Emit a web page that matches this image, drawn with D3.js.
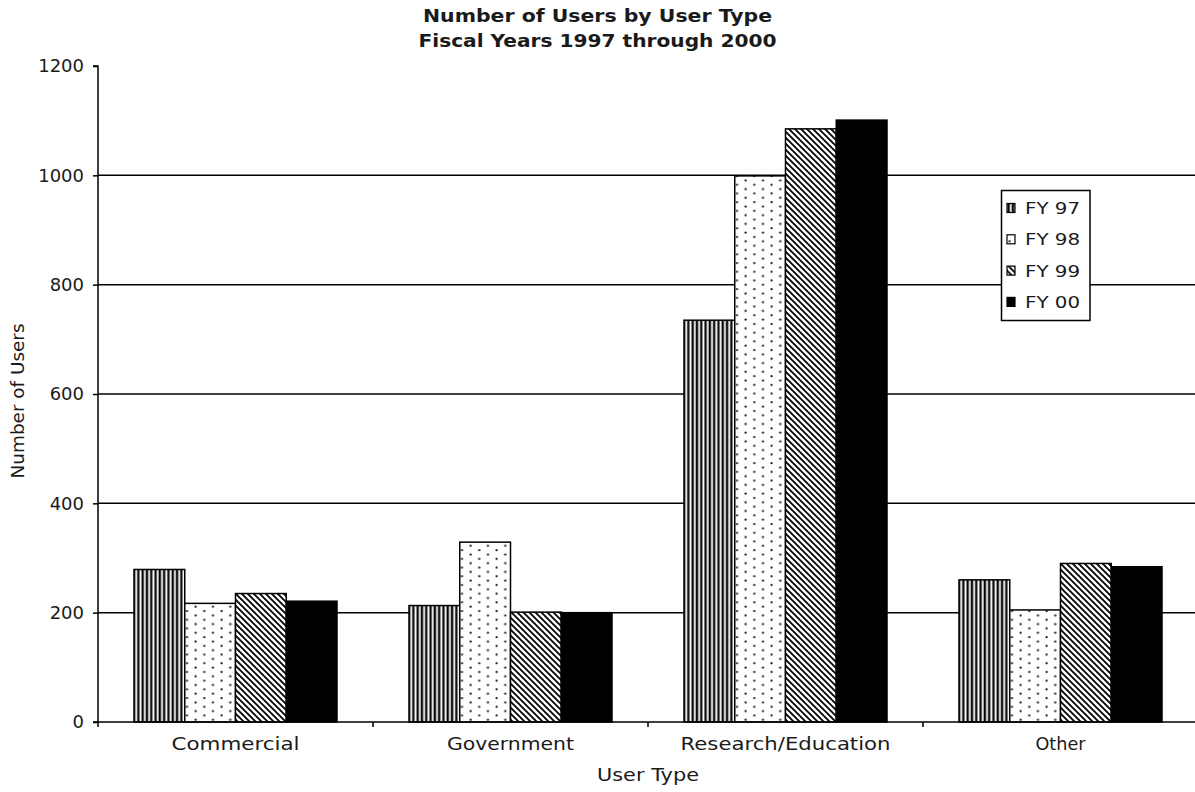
<!DOCTYPE html>
<html>
<head>
<meta charset="utf-8">
<script src="https://cdn.jsdelivr.net/npm/d3@7/dist/d3.min.js"></script>
<style>
  html, body { margin: 0; padding: 0; background: #fff; }
  svg { display: block; }
  text { font-family: "DejaVu Sans", Verdana, sans-serif; fill: #1a1a1a; }
</style>
</head>
<body>
<svg id="chart" width="1195" height="792"></svg>
<script>
const titleLines = ["Number of Users by User Type", "Fiscal Years 1997 through 2000"];
const categories = ["Commercial", "Government", "Research/Education", "Other"];
const seriesNames = ["FY 97", "FY 98", "FY 99", "FY 00"];
const fy97 = [279, 213, 735, 260];
const fy98 = [217, 329, 999, 205];
const fy99 = [235, 201, 1085, 290];
const fy00 = [221, 200, 1101, 284];
const yTicks = [0, 200, 400, 600, 800, 1000, 1200];
const yTitle = "Number of Users";
const xTitle = "User Type";

const seriesValues = [fy97, fy98, fy99, fy00];

const svg = d3.select("#chart");
const mLeft = 98, mRight = 1198, mTop = 66, mBottom = 722;

// patterns
const defs = svg.append("defs");
const pStripe = defs.append("pattern").attr("id", "p0").attr("patternUnits", "userSpaceOnUse")
  .attr("width", 4.3).attr("height", 4);
pStripe.append("rect").attr("width", 4.3).attr("height", 4).attr("fill", "#fff");
pStripe.append("rect").attr("x", 0.5).attr("width", 2).attr("height", 4).attr("fill", "#000");
pStripe.append("rect").attr("x", 2.5).attr("width", 0.8).attr("height", 4).attr("fill", "#888");

const pDots = defs.append("pattern").attr("id", "p1").attr("patternUnits", "userSpaceOnUse")
  .attr("width", 17.3).attr("height", 8.7);
pDots.append("rect").attr("width", 17.3).attr("height", 8.7).attr("fill", "#fff");
pDots.append("circle").attr("cx", 2.5).attr("cy", 2).attr("r", 1.15).attr("fill", "#222");
pDots.append("circle").attr("cx", 11.15).attr("cy", 6.35).attr("r", 1.15).attr("fill", "#222");

const pDiag = defs.append("pattern").attr("id", "p2").attr("patternUnits", "userSpaceOnUse")
  .attr("width", 6).attr("height", 6);
pDiag.append("rect").attr("width", 6).attr("height", 6).attr("fill", "#fff");
pDiag.append("path").attr("d", "M-1,-1 L7,7 M-1,5 L1,7 M5,-1 L7,1")
  .attr("stroke", "#000").attr("stroke-width", 1.8);

const fills = ["url(#p0)", "url(#p1)", "url(#p2)", "#000"];

const y = d3.scaleLinear().domain([0, 1200]).range([mBottom, mTop]);
const x0 = d3.scaleBand().domain(categories).range([mLeft, mRight]).padding(0);
const bw = x0.bandwidth();
const x1 = d3.scaleBand().domain(seriesNames).range([bw / 2 - 101.5, bw / 2 + 101.5]).padding(0);

// gridlines
svg.append("g").selectAll("line")
  .data(yTicks.filter(t => t > 0 && t < 1200))
  .join("line")
  .attr("x1", mLeft).attr("x2", mRight)
  .attr("y1", d => y(d)).attr("y2", d => y(d))
  .attr("stroke", "#000").attr("stroke-width", 1.5);

// bars
const groups = svg.append("g").selectAll("g")
  .data(categories)
  .join("g")
  .attr("transform", d => `translate(${x0(d)},0)`);

groups.selectAll("rect")
  .data((c, ci) => seriesNames.map((s, si) => ({ s, si, v: seriesValues[si][ci] })))
  .join("rect")
  .attr("x", d => x1(d.s))
  .attr("width", x1.bandwidth())
  .attr("y", d => y(d.v))
  .attr("height", d => y(0) - y(d.v))
  .attr("fill", d => fills[d.si])
  .attr("stroke", "#000")
  .attr("stroke-width", 1.5);

// y axis
const yAxis = d3.axisLeft(y).tickValues(yTicks).tickSize(5).tickPadding(9).tickFormat(d3.format("d"));
const gy = svg.append("g").attr("transform", `translate(${mLeft},0)`).call(yAxis);
gy.select(".domain").attr("stroke", "#000").attr("stroke-width", 1.5).attr("d", `M-5,${mTop}H0V${mBottom}H-5`);
gy.selectAll(".tick line").attr("stroke", "#000").attr("stroke-width", 1.5);
gy.selectAll(".tick text").style("font-size", "18px").style("font-family", '"DejaVu Sans", Verdana, sans-serif').attr("fill", "#1a1a1a");

// x axis
const xAxis = d3.axisBottom(x0).tickSize(0).tickPadding(16);
const gx = svg.append("g").attr("transform", `translate(0,${mBottom})`).call(xAxis);
gx.select(".domain").attr("stroke", "#000").attr("stroke-width", 1.5).attr("d", `M${mLeft},0H${mRight}`);
const catWidths = { "Commercial": 128, "Government": 127, "Research/Education": 210, "Other": 50 };
gx.selectAll(".tick text").style("font-size", "17px").style("font-family", '"DejaVu Sans", Verdana, sans-serif')
  .attr("fill", "#1a1a1a")
  .attr("textLength", d => catWidths[d]).attr("lengthAdjust", "spacingAndGlyphs");
// category boundary ticks
gx.append("g").selectAll("line")
  .data(categories)
  .join("line")
  .attr("x1", d => x0(d)).attr("x2", d => x0(d)).attr("y1", 0).attr("y2", 5)
  .attr("stroke", "#000").attr("stroke-width", 1.5);

// title
svg.append("g").selectAll("text")
  .data(titleLines)
  .join("text")
  .attr("x", 597.5)
  .attr("y", (d, i) => 22 + i * 25)
  .attr("text-anchor", "middle")
  .style("font-size", "17.5px").style("font-weight", "bold")
  .attr("textLength", (d, i) => [349, 358][i]).attr("lengthAdjust", "spacingAndGlyphs")
  .text(d => d);

// axis titles
svg.append("text")
  .attr("x", (mLeft + mRight) / 2).attr("y", 781)
  .attr("text-anchor", "middle").style("font-size", "17px")
  .attr("textLength", 102).attr("lengthAdjust", "spacingAndGlyphs")
  .text(xTitle);
svg.append("text")
  .attr("transform", `translate(24,401) rotate(-90)`)
  .attr("text-anchor", "middle").style("font-size", "17px")
  .attr("textLength", 155).attr("lengthAdjust", "spacingAndGlyphs")
  .text(yTitle);

// legend
const lg = svg.append("g");
lg.append("rect").attr("x", 1001.5).attr("y", 190.5).attr("width", 88.5).attr("height", 130)
  .attr("fill", "#fff").attr("stroke", "#000").attr("stroke-width", 1.5);
const items = lg.selectAll("g.item").data(seriesNames).join("g").attr("class", "item")
  .attr("transform", (d, i) => `translate(1007,${208 + i * 31.3})`);
items.append("rect").attr("x", 0).attr("y", -4.5).attr("width", 8).attr("height", 9)
  .attr("fill", (d, i) => fills[i]).attr("stroke", "#000").attr("stroke-width", 1.2);
items.append("text").attr("x", 18).attr("y", 6)
  .style("font-size", "16px")
  .attr("textLength", 55).attr("lengthAdjust", "spacingAndGlyphs")
  .text(d => d);
</script>
</body>
</html>
